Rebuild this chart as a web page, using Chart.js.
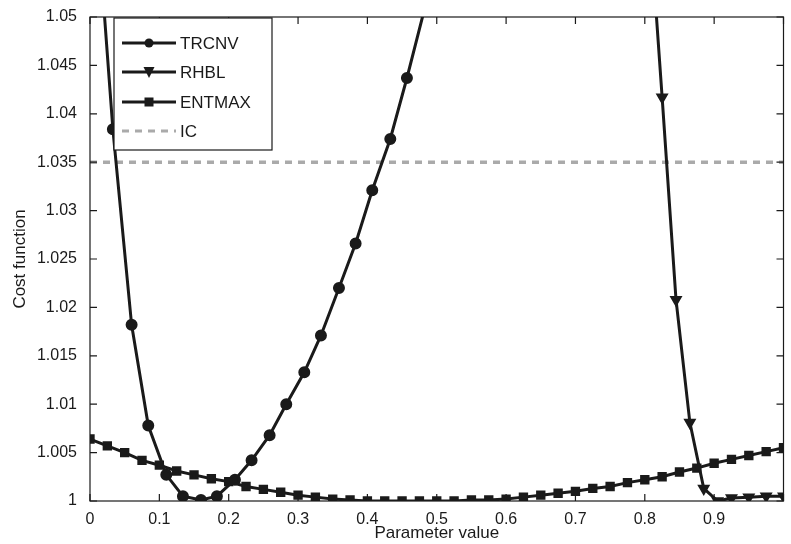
<!DOCTYPE html>
<html>
<head>
<meta charset="utf-8">
<script src="https://cdn.jsdelivr.net/npm/chart.js@4"></script>
<style>
  html, body { margin: 0; padding: 0; background: #fff; }
  #wrap { width: 791px; height: 544px; }
</style>
</head>
<body>
<div id="wrap"><canvas id="c"></canvas></div>
<script>
// datos
const trcnvX = [0.008, 0.033, 0.06, 0.084, 0.11, 0.134, 0.16, 0.183, 0.209, 0.233, 0.259, 0.283, 0.309, 0.333, 0.359, 0.383, 0.407, 0.433, 0.457, 0.483];
const trcnvY = [1.0626, 1.0384, 1.0182, 1.0078, 1.0027, 1.0005, 1.0001, 1.0005, 1.0022, 1.0042, 1.0068, 1.0100, 1.0133, 1.0171, 1.0220, 1.0266, 1.0321, 1.0374, 1.0437, 1.0510];

const rhblX = [0.805, 0.825, 0.845, 0.865, 0.885, 0.905, 0.925, 0.95, 0.975, 1.0];
const rhblY = [1.062, 1.0417, 1.0208, 1.0081, 1.0013, 1.0000, 1.0003, 1.0004, 1.0005, 1.0005];

const entmaxX = [0, 0.025, 0.05, 0.075, 0.1, 0.125, 0.15, 0.175, 0.2, 0.225, 0.25, 0.275, 0.3, 0.325, 0.35, 0.375, 0.4, 0.425, 0.45, 0.475, 0.5, 0.525, 0.55, 0.575, 0.6, 0.625, 0.65, 0.675, 0.7, 0.725, 0.75, 0.775, 0.8, 0.825, 0.85, 0.875, 0.9, 0.925, 0.95, 0.975, 1.0];
const entmaxY = [1.0064, 1.0057, 1.0050, 1.0042, 1.0037, 1.0031, 1.0027, 1.0023, 1.0020, 1.0015, 1.0012, 1.0009, 1.0006, 1.0004, 1.0002, 1.0001, 1.0000, 1.0000, 1.0000, 1.0000, 1.0000, 1.0000, 1.0001, 1.0001, 1.0002, 1.0004, 1.0006, 1.0008, 1.0010, 1.0013, 1.0015, 1.0019, 1.0022, 1.0025, 1.0030, 1.0034, 1.0039, 1.0043, 1.0047, 1.0051, 1.0055];

const icLevel = 1.035;
const xTicks = [0, 0.1, 0.2, 0.3, 0.4, 0.5, 0.6, 0.7, 0.8, 0.9, 1];
const yTicks = [1, 1.005, 1.01, 1.015, 1.02, 1.025, 1.03, 1.035, 1.04, 1.045, 1.05];

const FONT = 'Liberation Sans, Arial, sans-serif';
const INK = '#1a1a1a';

function pts(xs, ys) { return xs.map((x, i) => ({ x: x, y: ys[i] })); }

// marco completo, ticks hacia dentro y leyenda dentro del area
const framePlugin = {
    id: 'frame',
    afterDatasetsDraw(chart) {
        const { ctx, chartArea: a, scales } = chart;
        ctx.save();
        ctx.strokeStyle = INK;
        ctx.lineWidth = 1.2;
        ctx.strokeRect(a.left, a.top, a.right - a.left, a.bottom - a.top);
        ctx.beginPath();
        xTicks.forEach(v => {
            const px = scales.x.getPixelForValue(v);
            ctx.moveTo(px, a.bottom); ctx.lineTo(px, a.bottom - 7);
            ctx.moveTo(px, a.top); ctx.lineTo(px, a.top + 7);
        });
        yTicks.forEach(v => {
            const py = scales.y.getPixelForValue(v);
            ctx.moveTo(a.left, py); ctx.lineTo(a.left + 7, py);
            ctx.moveTo(a.right, py); ctx.lineTo(a.right - 7, py);
        });
        ctx.stroke();

        // leyenda
        const bx = 114, by = 18, bw = 158, bh = 132;
        ctx.fillStyle = '#fff';
        ctx.fillRect(bx, by, bw, bh);
        ctx.lineWidth = 1.2;
        ctx.strokeRect(bx, by, bw, bh);
        const rows = [43, 72, 102, 131];
        chart.data.datasets.forEach((ds, i) => {
            const y = rows[i];
            ctx.strokeStyle = ds.borderColor;
            ctx.lineWidth = 3;
            ctx.setLineDash(ds.borderDash || []);
            ctx.beginPath();
            ctx.moveTo(122, y); ctx.lineTo(176, y);
            ctx.stroke();
            ctx.setLineDash([]);
            ctx.fillStyle = INK;
            const cx = 149;
            if (ds.pointStyle === 'circle') {
                ctx.beginPath(); ctx.arc(cx, y, 4.5, 0, Math.PI * 2); ctx.fill();
            } else if (ds.pointStyle === 'rect') {
                ctx.fillRect(cx - 4.5, y - 4.5, 9, 9);
            } else if (ds.pointStyle === 'triangle') {
                ctx.beginPath();
                ctx.moveTo(cx - 5.5, y - 5); ctx.lineTo(cx + 5.5, y - 5); ctx.lineTo(cx, y + 6);
                ctx.closePath(); ctx.fill();
            }
            ctx.fillStyle = INK;
            ctx.font = '17px ' + FONT;
            ctx.textBaseline = 'middle';
            ctx.fillText(ds.label, 180, y + 1);
        });
        ctx.restore();
    }
};

const common = { borderColor: INK, backgroundColor: INK, borderWidth: 3, pointRadius: 4.5, pointHoverRadius: 4.5, tension: 0 };

new Chart(document.getElementById('c'), {
    type: 'line',
    data: {
        datasets: [
            Object.assign({ label: 'TRCNV', data: pts(trcnvX, trcnvY), pointStyle: 'circle' }, common),
            Object.assign({ label: 'RHBL', data: pts(rhblX, rhblY), pointStyle: 'triangle', pointRotation: 180, pointRadius: 6 }, common),
            Object.assign({ label: 'ENTMAX', data: pts(entmaxX, entmaxY), pointStyle: 'rect', pointRadius: 5 }, common),
            { label: 'IC', data: [{ x: 0, y: icLevel }, { x: 1, y: icLevel }], borderColor: '#aaaaaa', borderWidth: 3.5, borderDash: [7, 6], pointRadius: 0 }
        ]
    },
    options: {
        responsive: true,
        maintainAspectRatio: false,
        animation: false,
        layout: { padding: { top: 17, right: 1, left: 0, bottom: 0 } },
        plugins: { legend: { display: false }, tooltip: { enabled: false } },
        scales: {
            x: {
                type: 'linear', min: 0, max: 1,
                afterBuildTicks: s => { s.ticks = xTicks.map(v => ({ value: v })); },
                afterFit: s => { s.height = 43; },
                grid: { display: false },
                border: { display: false },
                ticks: {
                    color: INK, font: { family: FONT, size: 16 }, padding: 1, maxRotation: 0,
                    callback: v => (v === 1 ? '' : String(v))
                },
                title: { display: true, text: 'Parameter value', color: INK, font: { family: FONT, size: 17 }, padding: { top: 0, bottom: 0 } }
            },
            y: {
                type: 'linear', min: 1, max: 1.05,
                afterBuildTicks: s => { s.ticks = yTicks.map(v => ({ value: v })); },
                afterFit: s => { s.width = 90; },
                grid: { display: false },
                border: { display: false },
                ticks: {
                    color: INK, font: { family: FONT, size: 16 }, padding: 5,
                    callback: v => String(parseFloat(v.toFixed(3)))
                },
                title: { display: true, text: 'Cost function', color: INK, font: { family: FONT, size: 17 }, padding: { top: 10, bottom: 0 } }
            }
        }
    },
    plugins: [framePlugin]
});
</script>
</body>
</html>
